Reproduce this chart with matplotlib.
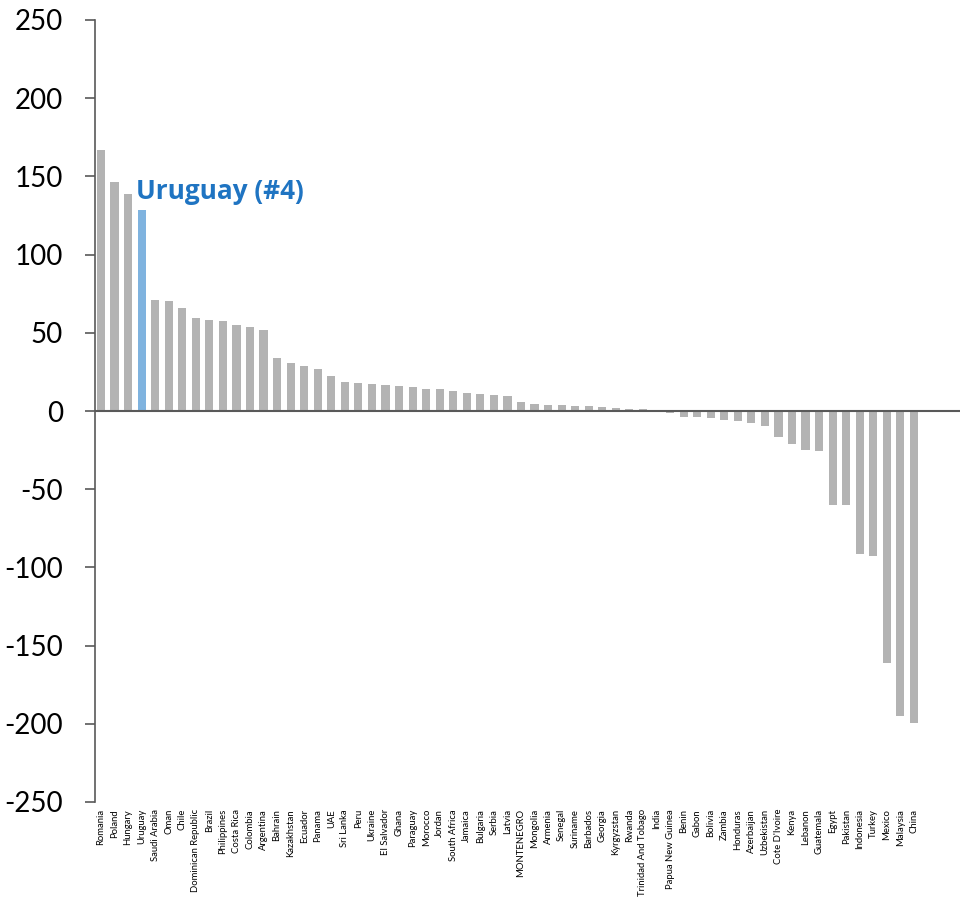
import matplotlib
matplotlib.use("Agg")
import matplotlib.pyplot as plt
import numpy as np

countries = [
    "Romania", "Poland", "Hungary", "Uruguay", "Saudi Arabia", "Oman", "Chile",
    "Dominican Republic", "Brazil", "Philippines", "Costa Rica", "Colombia",
    "Argentina", "Bahrain", "Kazakhstan", "Ecuador", "Panama", "UAE", "Sri Lanka",
    "Peru", "Ukraine", "El Salvador", "Ghana", "Paraguay", "Morocco", "Jordan",
    "South Africa", "Jamaica", "Bulgaria", "Serbia", "Latvia", "MONTENEGRO",
    "Mongolia", "Armenia", "Senegal", "Suriname", "Barbados", "Georgia",
    "Kyrgyzstan", "Rwanda", "Trinidad And Tobago", "India", "Papua New Guinea",
    "Benin", "Gabon", "Bolivia", "Zambia", "Honduras", "Azerbaijan", "Uzbekistan",
    "Cote D'Ivoire", "Kenya", "Lebanon", "Guatemala", "Egypt", "Pakistan",
    "Indonesia", "Turkey", "Mexico", "Malaysia", "China",
]

values = [
    166.6, 146.3, 139.0, 128.8, 71.0, 70.3, 65.7,
    59.3, 58.4, 57.7, 55.0, 53.7,
    51.6, 33.9, 30.5, 28.8, 26.6, 22.6, 18.8,
    17.7, 17.5, 16.4, 15.8, 15.1, 14.1, 13.8,
    13.0, 11.7, 10.9, 10.0, 9.4, 5.5,
    4.5, 4.0, 3.8, 3.4, 3.0, 2.5,
    1.7, 1.3, 1.0, -0.5, -1.5,
    -3.7, -4.0, -4.6, -5.9, -6.1, -7.8, -9.3,
    -16.9, -20.8, -24.8, -25.5, -59.8, -60.4,
    -91.6, -92.6, -160.9, -195.3, -199.2,
]

highlight = "Uruguay"
highlight_label = "Uruguay (#4)"
y_ticks = [250, 200, 150, 100, 50, 0, -50, -100, -150, -200, -250]

grey = "#B3B3B3"
light_blue = "#7FB3DF"
label_blue = "#1F74C2"
axis_col = "#595959"

fig = plt.figure(figsize=(9.71, 9.07), dpi=100)
ax = fig.add_axes([95 / 971, 105 / 907, 865 / 971, 782 / 907])

x = np.arange(len(countries))
colors = [light_blue if c == highlight else grey for c in countries]
ax.bar(x, values, width=0.6, color=colors, zorder=2)

ax.axhline(0, color=axis_col, lw=1.5, zorder=3)

ax.set_ylim(-250, 250)
ax.set_xlim(-0.44, 63.4)
ax.set_yticks(y_ticks)
ax.set_yticklabels([str(v) for v in y_ticks], fontsize=20, family="Lato")
ax.tick_params(axis="y", direction="out", length=7, width=1.2, color=axis_col, pad=16)

ax.set_xticks(x)
ax.set_xticklabels(countries, rotation=90, fontsize=6.8, family="Lato", va="top")
ax.tick_params(axis="x", length=0, pad=5)

for side in ("top", "right", "bottom"):
    ax.spines[side].set_visible(False)
ax.spines["left"].set_color(axis_col)
ax.spines["left"].set_linewidth(1.2)

hi = countries.index(highlight)
ax.text(hi - 0.45, values[hi] + 6.5, highlight_label, color=label_blue,
        fontsize=18.8, fontweight="bold", family="Open Sans",
        ha="left", va="baseline")

fig.savefig("out.png", dpi=100)
